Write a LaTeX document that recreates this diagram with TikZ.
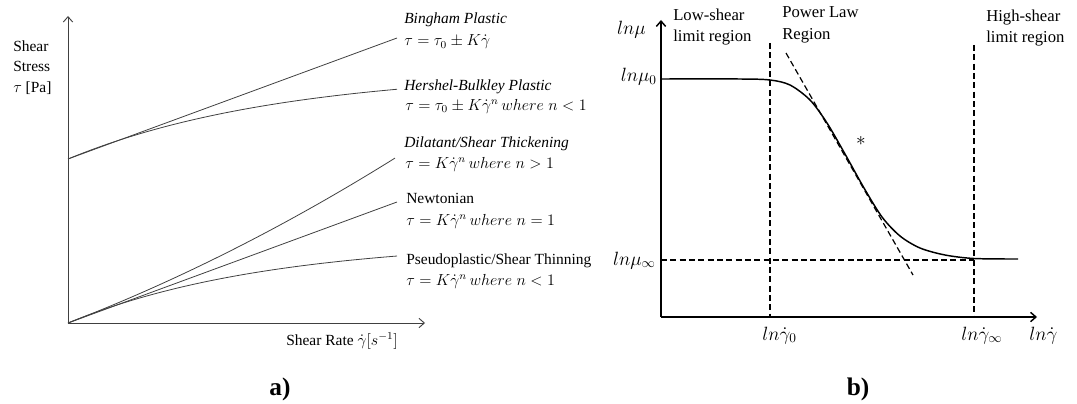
\documentclass[tikz,border=0pt]{standalone}
\usepackage{fontspec}
\setmainfont{Liberation Serif}
\usetikzlibrary{arrows.meta}
\begin{document}
\begin{tikzpicture}[x=0.75pt,y=-0.75pt,
  axisA/.style={draw=black!75, line width=0.7pt, -{Straight Barb[length=4pt,width=7pt]}},
  curveA/.style={draw=black!75, line width=0.6pt},
  axisB/.style={draw=black, line width=1.1pt, -{Straight Barb[length=4pt,width=7pt]}},
  curveB/.style={draw=black, line width=1.1pt},
  guide/.style={draw=black, line width=0.9pt, dash pattern=on 4.5pt off 2.5pt},
  txt/.style={font=\fontsize{11.6}{14}\selectfont, anchor=base west, inner sep=0pt},
  region/.style={font=\fontsize{12.5}{15}\selectfont, anchor=base west, inner sep=0pt},
  mlbl/.style={font=\fontsize{14.5}{17}\selectfont, inner sep=0pt},
  panel/.style={font=\fontsize{19}{22}\selectfont\bfseries, inner sep=0pt}
]
\useasboundingbox (0,0) rectangle (1077,403);

% ---------- (a) shear stress vs shear rate ----------
\coordinate (oA) at (68,323);
\coordinate (yA) at (68,16);
\coordinate (xA) at (425,323);
\coordinate (tau0) at (68,159);
\draw[axisA] (oA) -- (yA);
\draw[axisA] (oA) -- (xA);

% Bingham plastic
\draw[curveA] (tau0) -- (397,38);
% Herschel-Bulkley plastic
\draw[curveA] plot[domain=0:329, samples=60] ({68+\x},{159-89*(1-exp(-\x/215))});
% dilatant
\draw[curveA] plot[domain=0:327, samples=60] ({68+\x},{323-0.3846*\x-0.000367*\x*\x});
% Newtonian
\draw[curveA] (oA) -- (397,202);
% pseudoplastic
\draw[curveA] plot[domain=0:329, samples=60] ({68+\x},{323-83*(1-exp(-\x/200))});

\node[txt] (ys1) at (13,52) {Shear};
\node[txt] (ys2) at (13,72) {Stress};
\node[txt] (ys3) at (13,93) {$\tau$ [Pa]};

\node[txt] (bingT) at (404,24) {\itshape Bingham Plastic};
\node[txt] (bingE) at (404,46) {$\tau=\tau_0\pm K\dot{\gamma}$};
\node[txt] (hbT) at (404,90) {\itshape Hershel-Bulkley Plastic};
\node[txt] (hbE) at (405,110) {$\tau=\tau_0\pm K\dot{\gamma}^n\,where\;n<1$};
\node[txt] (dilT) at (404,147) {\itshape Dilatant/Shear Thickening};
\node[txt] (dilE) at (405,168) {$\tau=K\dot{\gamma}^n\,where\;n>1$};
\node[txt] (newT) at (406,203) {Newtonian};
\node[txt] (newE) at (406,225) {$\tau=K\dot{\gamma}^n\,where\;n=1$};
\node[txt] (psT) at (406,264) {Pseudoplastic/Shear Thinning};
\node[txt] (psE) at (406,285) {$\tau=K\dot{\gamma}^n\,where\;n<1$};
\node[txt] (xlabA) at (286,345) {Shear Rate $\dot{\gamma}[s^{-1}]$};

\node[panel] (pa) at (280,389) {a)};

% ---------- (b) viscosity vs shear rate, log-log ----------
\coordinate (oB) at (661,317);
\coordinate (yB) at (661,20);
\coordinate (xB) at (1037,317);
\draw[axisB] (oB) -- (yB);
\draw[axisB] (oB) -- (xB);

% region boundaries and asymptotes
\draw[guide] (770,43) -- (770,317);
\draw[guide] (974,45) -- (974,317);
\draw[guide] (661,260) -- (974,260);
\draw[guide] (786,53) -- (913,275);

% flow curve
\draw[curveB] plot[smooth, tension=0.5] coordinates {
  (661,79) (740,79) (770,80) (790,85) (810,100) (827,123) (845,154)
  (864,188) (882,217) (900,236) (920,248) (945,255) (974,258.5) (1018,259)};

\node[region] (lowA) at (673,21) {Low-shear};
\node[region] (lowB) at (673,42) {limit region};
\node[region] (powA) at (782,18) {Power Law};
\node[region] (powB) at (782,40) {Region};
\node[region] (highA) at (986,22) {High-shear};
\node[region] (highB) at (986,43) {limit region};

\node[mlbl, anchor=base east] (mu) at (646,35) {$ln\mu$};
\node[mlbl, anchor=base east] (mu0) at (657,82) {$ln\mu_0$};
\node[mlbl, anchor=base east] (muinf) at (656,265) {$ln\mu_\infty$};
\node[mlbl, anchor=base west] (g0) at (762,340) {$ln\dot{\gamma}_0$};
\node[mlbl, anchor=base west] (ginf) at (961,340) {$ln\dot{\gamma}_\infty$};
\node[mlbl, anchor=base west] (gx) at (1029,340) {$ln\dot{\gamma}$};
\node[mlbl] (star) at (861,141) {$*$};

\node[panel] (pb) at (858,389) {b)};
\end{tikzpicture}
\end{document}
